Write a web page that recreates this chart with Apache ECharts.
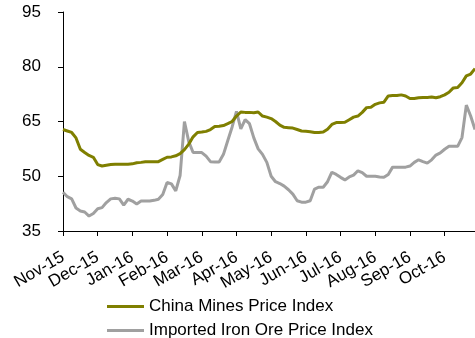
<!DOCTYPE html>
<html>
<head>
<meta charset="utf-8">
<script src="https://cdn.jsdelivr.net/npm/echarts@6/dist/echarts.min.js"></script>
<style>
  html, body { margin: 0; padding: 0; background: #fff; }
  #chart { width: 475px; height: 338px; }
</style>
</head>
<body>
<div id="chart"></div>
<script>
// Month labels along the time axis; each month holds SAMPLES_PER_MONTH readings
const monthLabels = ['Nov-15', 'Dec-15', 'Jan-16', 'Feb-16', 'Mar-16', 'Apr-16',
                     'May-16', 'Jun-16', 'Jul-16', 'Aug-16', 'Sep-16', 'Oct-16'];
const SAMPLES_PER_MONTH = 8;

// China Mines Price Index
const chinaMines = [
  62.8, 62.4, 62.0, 60.5, 57.4, 56.5, 55.7, 55.2,
  53.2, 52.8, 53.0, 53.2, 53.3, 53.3, 53.3, 53.3,
  53.4, 53.7, 53.8, 54.0, 54.0, 54.0, 54.0, 54.6,
  55.2, 55.3, 55.6, 56.2, 57.3, 58.8, 60.8, 62.0,
  62.1, 62.3, 62.8, 63.6, 63.7, 63.9, 64.4, 65.0,
  66.5, 67.6, 67.5, 67.5, 67.4, 67.6, 66.5, 66.2,
  65.8, 65.0, 64.0, 63.4, 63.3, 63.2, 62.8, 62.4,
  62.3, 62.2, 62.0, 62.0, 62.1, 62.9, 64.2, 64.7,
  64.7, 64.8, 65.5, 66.2, 66.5, 67.5, 68.8, 68.9,
  69.7, 70.1, 70.3, 72.0, 72.1, 72.1, 72.3, 72.0,
  71.3, 71.3, 71.5, 71.6, 71.6, 71.7, 71.5, 71.8,
  72.3, 73.0, 74.2, 74.3, 75.6, 77.5, 78.0, 79.5
];

// Imported Iron Ore Price Index
const importedOre = [
  45.6, 44.4, 43.8, 41.3, 40.5, 40.2, 39.1, 39.8,
  41.1, 41.4, 42.8, 43.8, 44.0, 43.8, 42.1, 43.7,
  43.2, 42.4, 43.2, 43.2, 43.2, 43.4, 43.7, 45.0,
  48.3, 47.9, 46.0, 50.2, 65.0, 59.5, 56.5, 56.5,
  56.5, 55.5, 54.0, 53.9, 53.9, 56.0, 59.8, 63.5,
  67.8, 63.0, 65.5, 64.4, 60.5, 57.5, 56.0, 53.8,
  50.0, 48.5, 48.0, 47.3, 46.3, 45.1, 43.3, 42.9,
  42.9, 43.3, 46.5, 47.0, 47.0, 48.5, 51.1, 50.5,
  49.7, 49.0, 49.8, 50.3, 51.5, 51.0, 50.0, 50.0,
  50.0, 49.8, 49.7, 50.5, 52.5, 52.5, 52.5, 52.5,
  52.8, 53.8, 54.5, 54.0, 53.6, 54.5, 55.8, 56.4,
  57.4, 58.2, 58.2, 58.2, 60.6, 69.5, 66.5, 62.8
];

const yTicks = { min: 35, max: 95, step: 15 };
const seriesNames = ['China Mines Price Index', 'Imported Iron Ore Price Index'];

// One category per reading, tagged with its month so only month starts get a label
const categories = [];
monthLabels.forEach(function (m) {
  for (let k = 0; k < SAMPLES_PER_MONTH; k++) categories.push(m + '|' + k);
});
const isMonthStart = function (i) { return i % SAMPLES_PER_MONTH === 0; };

const FONT = '"Liberation Sans", Arial, sans-serif';
const legendText = { fontFamily: FONT, fontSize: 17, color: '#000' };
const chart = echarts.init(document.getElementById('chart'), null, { renderer: 'canvas' });

chart.setOption({
  animation: false,
  backgroundColor: '#ffffff',
  grid: { left: 63, top: 12, right: 0, height: 219, containLabel: false },
  // Two stacked legend rows below the axis labels
  legend: [
    {
      left: 102, top: 293, itemWidth: 37, itemHeight: 3, icon: 'rect',
      textStyle: legendText, data: [seriesNames[0]]
    },
    {
      left: 102, top: 317, itemWidth: 37, itemHeight: 3, icon: 'rect',
      textStyle: legendText, data: [seriesNames[1]]
    }
  ],
  xAxis: {
    type: 'category',
    data: categories,
    boundaryGap: false,
    axisLine: { lineStyle: { color: '#000', width: 1 } },
    axisTick: {
      show: true,
      length: 5,
      interval: isMonthStart,
      lineStyle: { color: '#000' }
    },
    axisLabel: {
      interval: isMonthStart,
      showMinLabel: true,
      showMaxLabel: true,
      rotate: 30,
      margin: 25,
      fontFamily: FONT,
      fontSize: 17,
      color: '#000',
      formatter: function (v) { return v.split('|')[0]; }
    },
    splitLine: { show: false }
  },
  yAxis: {
    type: 'value',
    min: yTicks.min,
    max: yTicks.max,
    interval: yTicks.step,
    axisLine: { show: true, lineStyle: { color: '#000', width: 1 } },
    axisTick: { show: true, length: 5, lineStyle: { color: '#000' } },
    axisLabel: { margin: 22, fontFamily: FONT, fontSize: 17, color: '#000' },
    splitLine: { show: false }
  },
  series: [
    {
      name: seriesNames[0],
      type: 'line',
      data: chinaMines,
      showSymbol: false,
      itemStyle: { color: '#7f7f00' },
      lineStyle: { color: '#7f7f00', width: 3 },
      z: 3
    },
    {
      name: seriesNames[1],
      type: 'line',
      data: importedOre,
      showSymbol: false,
      itemStyle: { color: '#a0a0a0' },
      lineStyle: { color: '#a0a0a0', width: 3 },
      z: 2
    }
  ]
});
</script>
</body>
</html>
